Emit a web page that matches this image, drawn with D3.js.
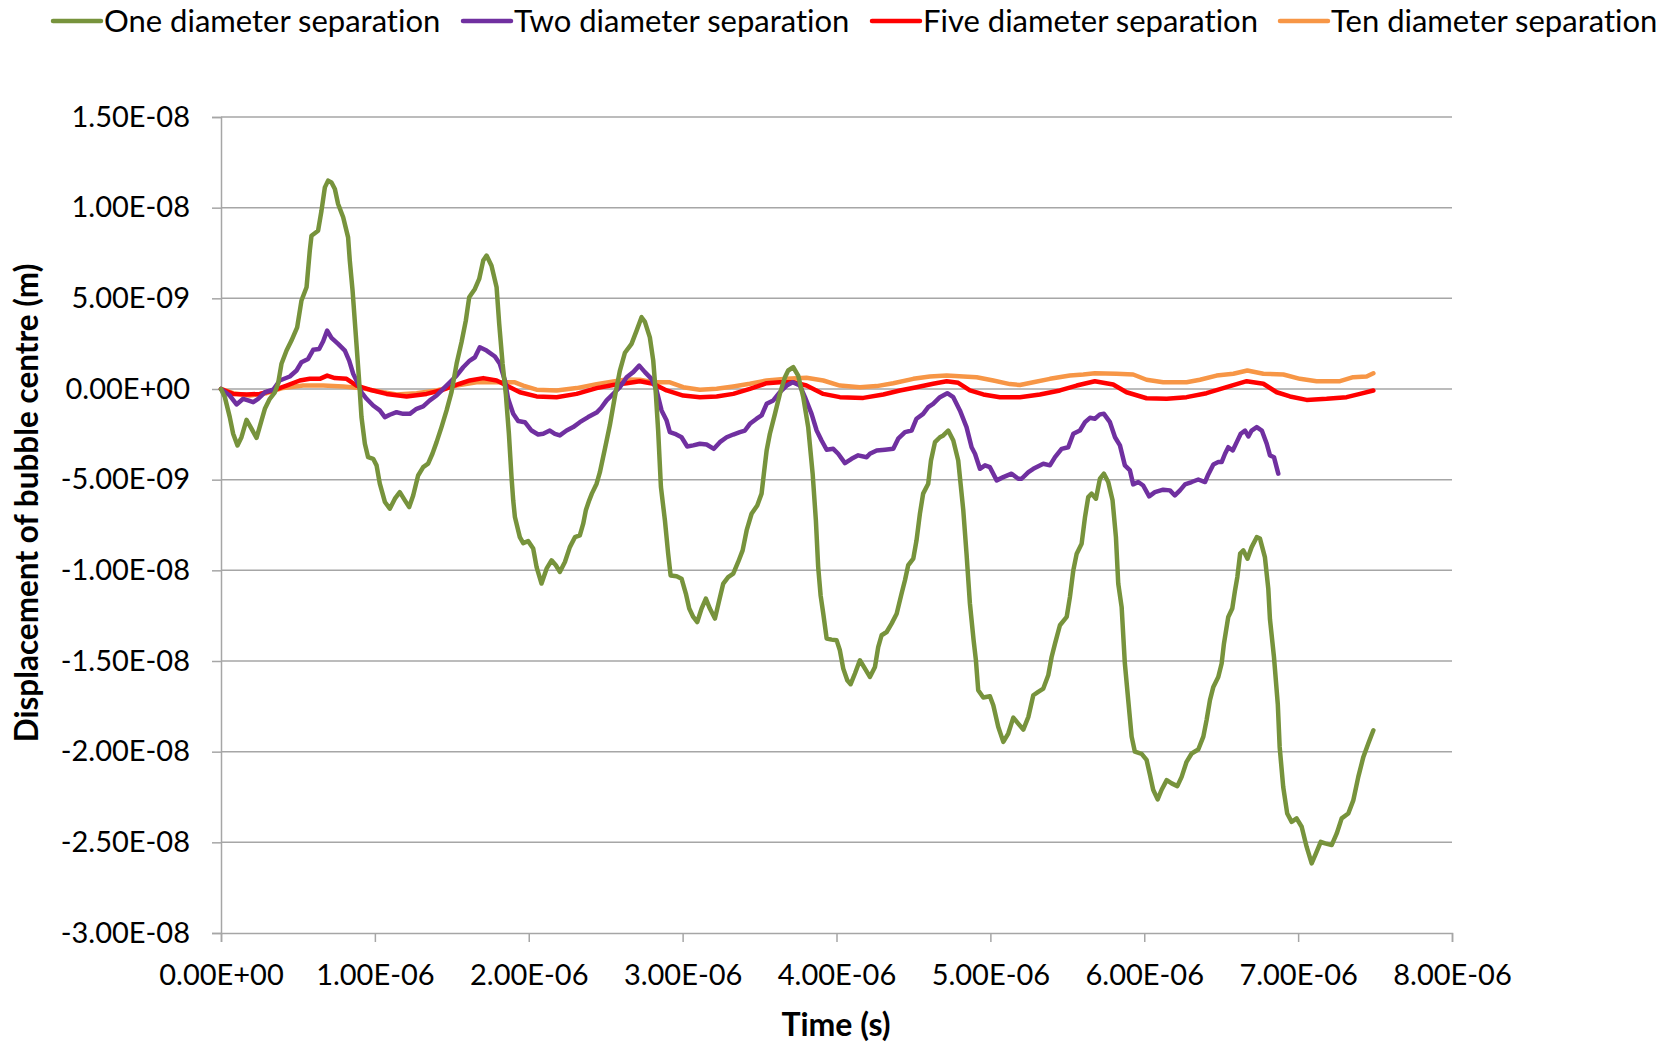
<!DOCTYPE html>
<html>
<head>
<meta charset="utf-8">
<script src="https://cdn.jsdelivr.net/npm/d3@7"></script>
<style>
  body { margin: 0; background: #fff; }
  svg { display: block; font-family: Lato, "Open Sans", sans-serif; font-variant-ligatures: none; }
</style>
</head>
<body>
<div id="chart"></div>
<script>
// time in microseconds, displacement in nanometres (converted to SI below)
const seriesNames = ['One diameter separation', 'Two diameter separation', 'Five diameter separation', 'Ten diameter separation']
const seriesColors = ['#77933C', '#7030A0', '#FF0000', '#F79646']

const oneDiameter = [
  [0,0],[0.025,-0.45],[0.057,-1.55],[0.079,-2.47],[0.107,-3.11],[0.133,-2.66],[0.166,-1.70],[0.198,-2.19],
  [0.231,-2.69],[0.263,-1.74],[0.285,-1.09],[0.317,-0.54],[0.35,-0.18],[0.371,0.29],[0.393,1.39],[0.426,2.12],
  [0.458,2.67],[0.495,3.40],[0.523,4.88],[0.556,5.61],[0.577,7.63],[0.588,8.45],[0.631,8.73],[0.653,9.83],
  [0.675,11.12],[0.696,11.49],[0.718,11.39],[0.740,11.03],[0.761,10.20],[0.794,9.47],[0.826,8.36],[0.837,7.08],
  [0.855,5.43],[0.874,3.22],[0.896,0.65],[0.913,-1.55],[0.935,-3.02],[0.956,-3.76],[0.989,-3.85],[1.011,-4.21],
  [1.032,-5.22],[1.065,-6.23],[1.097,-6.60],[1.130,-6.05],[1.162,-5.69],[1.195,-6.14],[1.223,-6.51],[1.249,-5.87],
  [1.281,-4.77],[1.314,-4.31],[1.346,-4.12],[1.374,-3.57],[1.401,-2.93],[1.433,-2.10],[1.466,-1.18],[1.498,-0.17],
  [1.531,1.39],[1.563,2.58],[1.591,3.77],[1.613,5.06],[1.650,5.52],[1.678,6.07],[1.704,7.08],[1.726,7.36],
  [1.758,6.80],[1.791,5.61],[1.808,3.59],[1.830,1.39],[1.851,-0.27],[1.871,-2.47],[1.888,-4.86],[1.899,-6.14],
  [1.910,-7.06],[1.942,-8.17],[1.964,-8.50],[1.996,-8.39],[2.029,-8.80],[2.051,-9.82],[2.083,-10.73],[2.116,-9.91],
  [2.148,-9.45],[2.176,-9.72],[2.202,-10.09],[2.235,-9.54],[2.267,-8.72],[2.300,-8.17],[2.332,-8.07],[2.354,-7.43],
  [2.371,-6.69],[2.393,-6.14],[2.410,-5.77],[2.441,-5.22],[2.462,-4.60],[2.495,-3.30],[2.527,-2.00],[2.560,-0.40],
  [2.592,1.00],[2.625,2.00],[2.668,2.49],[2.701,3.22],[2.733,3.96],[2.755,3.70],[2.787,2.85],[2.809,1.57],
  [2.826,-0.27],[2.841,-2.29],[2.859,-5.41],[2.885,-7.25],[2.906,-9.08],[2.922,-10.28],[2.961,-10.33],[2.993,-10.46],
  [3.021,-11.28],[3.043,-12.11],[3.069,-12.57],[3.095,-12.85],[3.123,-12.11],[3.151,-11.56],[3.177,-12.11],[3.210,-12.66],
  [3.238,-11.65],[3.264,-10.73],[3.296,-10.37],[3.329,-10.18],[3.361,-9.54],[3.390,-8.90],[3.416,-7.80],[3.448,-6.88],
  [3.485,-6.42],[3.513,-5.77],[3.528,-4.67],[3.546,-3.39],[3.567,-2.47],[3.600,-1.37],[3.632,-0.27],[3.665,0.65],
  [3.686,1.02],[3.719,1.20],[3.751,0.74],[3.784,-0.45],[3.816,-2.10],[3.845,-4.67],[3.866,-7.25],[3.881,-9.82],
  [3.897,-11.40],[3.914,-12.39],[3.936,-13.76],[3.968,-13.82],[4.001,-13.86],[4.022,-14.41],[4.044,-15.42],[4.070,-16.06],
  [4.092,-16.28],[4.120,-15.69],[4.152,-14.96],[4.185,-15.42],[4.217,-15.88],[4.250,-15.33],[4.271,-14.23],[4.293,-13.58],
  [4.326,-13.40],[4.358,-12.94],[4.391,-12.39],[4.423,-11.28],[4.445,-10.55],[4.466,-9.72],[4.499,-9.36],[4.520,-8.35],
  [4.542,-6.88],[4.563,-5.77],[4.596,-5.22],[4.614,-3.94],[4.640,-2.93],[4.672,-2.66],[4.694,-2.56],[4.726,-2.29],
  [4.759,-2.84],[4.791,-3.94],[4.824,-6.69],[4.845,-9.08],[4.867,-11.83],[4.891,-13.86],[4.906,-14.96],[4.921,-16.61],
  [4.954,-17.01],[4.997,-16.94],[5.019,-17.44],[5.051,-18.63],[5.084,-19.46],[5.116,-19.00],[5.149,-18.12],[5.181,-18.45],
  [5.214,-18.78],[5.247,-18.08],[5.279,-16.89],[5.311,-16.70],[5.344,-16.52],[5.376,-15.79],[5.398,-14.78],[5.420,-14.04],
  [5.452,-13.03],[5.496,-12.57],[5.517,-11.47],[5.539,-10.00],[5.561,-9.08],[5.593,-8.53],[5.615,-7.06],[5.636,-5.96],
  [5.658,-5.77],[5.686,-6.05],[5.712,-4.95],[5.738,-4.67],[5.766,-5.13],[5.794,-6.14],[5.816,-8.17],[5.831,-10.73],
  [5.853,-12.02],[5.874,-15.14],[5.896,-17.16],[5.918,-19.17],[5.939,-20.00],[5.983,-20.12],[6.015,-20.45],[6.037,-21.27],
  [6.058,-22.10],[6.087,-22.63],[6.113,-22.10],[6.146,-21.57],[6.178,-21.75],[6.215,-21.90],[6.243,-21.39],[6.275,-20.56],
  [6.308,-20.10],[6.351,-19.88],[6.384,-19.17],[6.405,-18.26],[6.427,-17.16],[6.449,-16.43],[6.481,-15.88],[6.503,-15.14],
  [6.518,-14.04],[6.546,-12.57],[6.572,-12.11],[6.590,-11.10],[6.605,-10.37],[6.623,-9.08],[6.644,-8.90],[6.671,-9.36],
  [6.698,-8.72],[6.731,-8.17],[6.752,-8.25],[6.784,-9.27],[6.806,-11.00],[6.817,-12.70],[6.843,-14.78],[6.868,-17.40],
  [6.880,-19.74],[6.903,-21.94],[6.929,-23.41],[6.958,-23.87],[6.990,-23.68],[7.023,-24.14],[7.055,-25.24],[7.088,-26.16],
  [7.116,-25.61],[7.147,-24.97],[7.175,-25.06],[7.218,-25.15],[7.251,-24.51],[7.283,-23.68],[7.326,-23.41],[7.359,-22.67],
  [7.391,-21.39],[7.424,-20.29],[7.456,-19.55],[7.489,-18.82]
]

const twoDiameter = [
  [0,0],[0.057,-0.36],[0.101,-0.85],[0.144,-0.54],[0.176,-0.63],[0.209,-0.73],[0.241,-0.54],[0.285,-0.18],
  [0.339,-0.04],[0.382,0.47],[0.447,0.69],[0.491,1.02],[0.523,1.48],[0.566,1.66],[0.599,2.16],[0.638,2.21],
  [0.664,2.63],[0.690,3.22],[0.718,2.82],[0.761,2.49],[0.805,2.12],[0.833,1.57],[0.859,0.84],[0.891,0.29],
  [0.913,-0.18],[0.946,-0.54],[0.989,-0.91],[1.032,-1.18],[1.065,-1.55],[1.097,-1.42],[1.141,-1.28],[1.184,-1.37],
  [1.227,-1.37],[1.271,-1.09],[1.314,-0.96],[1.357,-0.63],[1.401,-0.36],[1.444,0.01],[1.487,0.37],[1.531,0.74],
  [1.574,1.20],[1.617,1.57],[1.650,1.75],[1.682,2.30],[1.726,2.12],[1.780,1.79],[1.812,1.39],[1.845,0.47],
  [1.866,-0.54],[1.899,-1.37],[1.931,-1.77],[1.975,-1.83],[2.018,-2.29],[2.061,-2.51],[2.094,-2.47],[2.137,-2.29],
  [2.170,-2.47],[2.202,-2.56],[2.246,-2.29],[2.289,-2.10],[2.332,-1.83],[2.386,-1.55],[2.441,-1.30],[2.470,-1.05],
  [2.506,-0.63],[2.549,-0.27],[2.592,0.10],[2.636,0.65],[2.679,0.93],[2.718,1.29],[2.755,0.93],[2.798,0.56],
  [2.831,-0.08],[2.863,-1.18],[2.896,-1.74],[2.917,-2.38],[2.950,-2.47],[2.993,-2.66],[3.030,-3.17],[3.069,-3.11],
  [3.112,-3.02],[3.156,-3.06],[3.203,-3.30],[3.242,-2.93],[3.286,-2.66],[3.329,-2.51],[3.372,-2.38],[3.405,-2.29],
  [3.437,-1.92],[3.481,-1.64],[3.513,-1.46],[3.546,-0.82],[3.589,-0.63],[3.632,-0.18],[3.676,0.19],[3.715,0.37],
  [3.762,0.19],[3.795,-0.45],[3.838,-1.37],[3.871,-2.29],[3.903,-2.84],[3.936,-3.35],[3.979,-3.30],[4.011,-3.57],
  [4.055,-4.09],[4.098,-3.85],[4.141,-3.66],[4.196,-3.76],[4.217,-3.57],[4.261,-3.39],[4.315,-3.35],[4.369,-3.30],
  [4.401,-2.74],[4.445,-2.38],[4.488,-2.29],[4.520,-1.64],[4.563,-1.37],[4.596,-1.00],[4.628,-0.82],[4.672,-0.45],
  [4.720,-0.23],[4.759,-0.45],[4.802,-1.18],[4.845,-2.10],[4.878,-3.21],[4.900,-3.57],[4.932,-4.40],[4.965,-4.21],
  [4.997,-4.31],[5.041,-5.04],[5.084,-4.86],[5.138,-4.67],[5.181,-4.95],[5.203,-4.95],[5.247,-4.58],[5.279,-4.40],
  [5.344,-4.12],[5.387,-4.21],[5.420,-3.76],[5.463,-3.30],[5.506,-3.21],[5.539,-2.47],[5.582,-2.29],[5.615,-1.83],
  [5.647,-1.59],[5.679,-1.64],[5.712,-1.40],[5.738,-1.37],[5.777,-1.83],[5.810,-2.66],[5.842,-3.11],[5.874,-4.21],
  [5.907,-4.49],[5.928,-5.26],[5.961,-5.13],[5.993,-5.32],[6.032,-5.92],[6.069,-5.69],[6.123,-5.55],[6.167,-5.59],
  [6.199,-5.87],[6.232,-5.59],[6.265,-5.26],[6.308,-5.13],[6.351,-4.99],[6.395,-5.13],[6.416,-4.71],[6.449,-4.16],
  [6.481,-4.03],[6.503,-4.03],[6.525,-3.57],[6.546,-3.21],[6.575,-3.39],[6.601,-2.93],[6.627,-2.47],[6.655,-2.29],
  [6.677,-2.62],[6.698,-2.29],[6.731,-2.10],[6.764,-2.29],[6.796,-3.02],[6.817,-3.66],[6.843,-3.76],[6.871,-4.67]
]

const fiveDiameter = [
  [0,0],[0.079,-0.27],[0.166,-0.30],[0.252,-0.27],[0.339,-0.08],[0.426,0.19],[0.512,0.47],[0.577,0.56],
  [0.642,0.56],[0.690,0.74],[0.740,0.60],[0.816,0.56],[0.881,0.19],[0.967,-0.04],[1.076,-0.27],[1.206,-0.41],
  [1.336,-0.27],[1.444,-0.04],[1.552,0.29],[1.617,0.47],[1.704,0.60],[1.791,0.47],[1.856,0.19],[1.942,-0.18],
  [2.051,-0.41],[2.181,-0.45],[2.311,-0.27],[2.441,0.05],[2.549,0.22],[2.636,0.32],[2.722,0.43],[2.809,0.29],
  [2.896,-0.08],[3.004,-0.36],[3.112,-0.45],[3.221,-0.41],[3.329,-0.27],[3.437,0.01],[3.546,0.32],[3.632,0.37],
  [3.719,0.37],[3.805,0.19],[3.914,-0.27],[4.022,-0.45],[4.174,-0.49],[4.304,-0.30],[4.412,-0.08],[4.520,0.10],
  [4.628,0.29],[4.716,0.43],[4.791,0.34],[4.867,-0.08],[4.954,-0.30],[5.062,-0.45],[5.192,-0.45],[5.322,-0.30],
  [5.452,-0.08],[5.561,0.19],[5.679,0.43],[5.798,0.25],[5.885,-0.18],[6.015,-0.51],[6.146,-0.54],[6.275,-0.45],
  [6.405,-0.23],[6.535,0.10],[6.666,0.43],[6.774,0.29],[6.861,-0.18],[6.947,-0.41],[7.055,-0.60],[7.185,-0.54],
  [7.315,-0.45],[7.402,-0.27],[7.489,-0.08]
]

const tenDiameter = [
  [0,0],[0.079,-0.23],[0.187,-0.36],[0.296,-0.23],[0.404,0.06],[0.534,0.19],[0.664,0.19],[0.794,0.14],
  [0.902,0.06],[1.054,-0.18],[1.141,-0.30],[1.271,-0.23],[1.401,-0.08],[1.531,0.19],[1.661,0.37],[1.791,0.37],
  [1.910,0.37],[1.964,0.19],[2.051,-0.04],[2.181,-0.08],[2.311,0.05],[2.441,0.27],[2.549,0.42],[2.636,0.52],
  [2.722,0.51],[2.809,0.37],[2.917,0.37],[3.004,0.10],[3.112,-0.04],[3.221,0.01],[3.329,0.14],[3.437,0.29],
  [3.546,0.47],[3.676,0.56],[3.805,0.62],[3.914,0.47],[4.022,0.19],[4.152,0.10],[4.261,0.16],[4.369,0.32],
  [4.499,0.56],[4.607,0.69],[4.716,0.74],[4.824,0.69],[4.911,0.65],[5.019,0.47],[5.127,0.27],[5.192,0.22],
  [5.279,0.37],[5.387,0.56],[5.517,0.74],[5.604,0.80],[5.679,0.87],[5.820,0.84],[5.928,0.80],[6.015,0.51],
  [6.123,0.37],[6.275,0.37],[6.362,0.51],[6.470,0.74],[6.579,0.84],[6.670,1.02],[6.774,0.84],[6.904,0.80],
  [7.012,0.56],[7.120,0.43],[7.272,0.43],[7.358,0.65],[7.445,0.69],[7.489,0.87]
]

const xTicks = [0, 1e-6, 2e-6, 3e-6, 4e-6, 5e-6, 6e-6, 7e-6, 8e-6]
const yTicks = [1.5e-8, 1e-8, 5e-9, 0, -5e-9, -1e-8, -1.5e-8, -2e-8, -2.5e-8, -3e-8]

const width = 1678
const height = 1042
const plot = { left: 221, right: 1452, top: 117, bottom: 933 }
const gridColor = '#a6a6a6'

function excelExp(v) {
  const [m, e] = v.toExponential(2).split('e')
  const n = parseInt(e, 10)
  return m + 'E' + (n < 0 ? '-' : '+') + String(Math.abs(n)).padStart(2, '0')
}

const x = d3.scaleLinear().domain([0, 8e-6]).range([plot.left, plot.right])
const y = d3.scaleLinear().domain([-3e-8, 1.5e-8]).range([plot.bottom, plot.top])

const svg = d3.select('#chart').append('svg')
  .attr('width', width)
  .attr('height', height)

svg.append('rect').attr('width', width).attr('height', height).attr('fill', '#fff')

// horizontal gridlines
svg.append('g')
  .selectAll('line')
  .data(yTicks.filter(d => d !== -3e-8))
  .join('line')
    .attr('x1', plot.left)
    .attr('x2', plot.right)
    .attr('y1', d => y(d))
    .attr('y2', d => y(d))
    .attr('stroke', gridColor)
    .attr('stroke-width', 1.5)

const yAxis = svg.append('g')
  .attr('transform', `translate(${plot.left},0)`)
  .call(d3.axisLeft(y).tickValues(yTicks).tickFormat(excelExp).tickSize(9).tickPadding(22))
yAxis.select('.domain').attr('stroke', gridColor).attr('stroke-width', 1.5)
yAxis.selectAll('.tick line').attr('stroke', gridColor).attr('stroke-width', 1.5)
yAxis.selectAll('.tick text')
  .attr('fill', '#000')
  .style('font-size', '29px')
  .style('font-family', 'Lato, sans-serif')

const xAxis = svg.append('g')
  .attr('transform', `translate(0,${plot.bottom})`)
  .call(d3.axisBottom(x).tickValues(xTicks).tickFormat(excelExp).tickSize(9).tickPadding(22))
xAxis.select('.domain').attr('stroke', gridColor).attr('stroke-width', 1.5)
xAxis.selectAll('.tick line').attr('stroke', gridColor).attr('stroke-width', 1.5)
xAxis.selectAll('.tick text')
  .attr('fill', '#000')
  .style('font-size', '29px')
  .style('font-family', 'Lato, sans-serif')

const line = d3.line()
  .x(d => x(d[0] * 1e-6))
  .y(d => y(d[1] * 1e-9))

const allSeries = [oneDiameter, twoDiameter, fiveDiameter, tenDiameter]

// draw back to front so green ends up on top like the original
svg.append('g')
  .selectAll('path')
  .data(allSeries.map((s, i) => ({ values: s, color: seriesColors[i] })).reverse())
  .join('path')
    .attr('d', d => line(d.values))
    .attr('fill', 'none')
    .attr('stroke', d => d.color)
    .attr('stroke-width', 4.5)
    .attr('stroke-linejoin', 'round')
    .attr('stroke-linecap', 'round')

// axis titles
svg.append('text')
  .attr('x', 836)
  .attr('y', 1036)
  .attr('text-anchor', 'middle')
  .style('font-size', '32px')
  .style('font-weight', 'bold')
  .text('Time (s)')

svg.append('text')
  .attr('transform', 'translate(38,503) rotate(-90)')
  .attr('text-anchor', 'middle')
  .style('font-size', '31.5px')
  .style('font-weight', 'bold')
  .text('Displacement of bubble centre (m)')

// legend
const legendX = [53, 463, 872, 1280]
const legend = svg.append('g')
  .selectAll('g')
  .data(seriesNames)
  .join('g')
    .attr('transform', (d, i) => `translate(${legendX[i]},21)`)
legend.append('line')
  .attr('x1', 0).attr('x2', 48)
  .attr('stroke', (d, i) => seriesColors[i])
  .attr('stroke-width', 4.5)
  .attr('stroke-linecap', 'round')
legend.append('text')
  .attr('x', 51)
  .attr('dy', '0.35em')
  .style('font-size', '31px')
  .text(d => d)
</script>
</body>
</html>
